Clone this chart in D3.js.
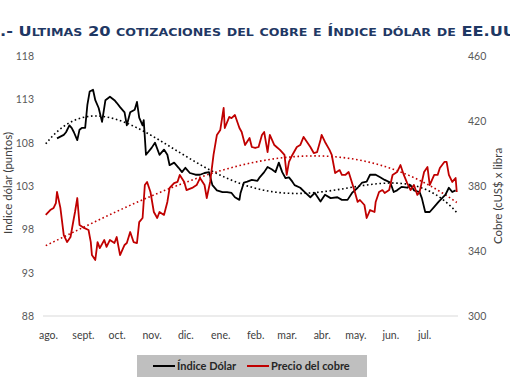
<!DOCTYPE html>
<html><head><meta charset="utf-8">
<script src="https://cdn.jsdelivr.net/npm/d3@7"></script>
<style>
body{margin:0;background:#fff;}
svg{display:block;}
</style></head>
<body>
<svg id="c" width="510" height="382"></svg>
<script>
// ---------- data ----------
const titulo = ".- Ultimas 20 cotizaciones del cobre e Índice dólar de EE.UU";
const tituloEjeIzq = "Indice dólar (puntos)";
const tituloEjeDer = "Cobre (cUS$ x libra";
const serieNombres = ["Índice Dólar", "Precio del cobre"];
const ticksIzq = [88, 93, 98, 103, 108, 113, 118];
const ticksDer = [300, 340, 380, 420, 460];
const mesesEtiquetas = ["ago.","sept.","oct.","nov.","dic.","ene.","feb.","mar.","abr.","may.","jun.","jul."];
const mesesFechas = ["2022-08-01","2022-09-01","2022-10-01","2022-11-01","2022-12-01","2023-01-01","2023-02-01","2023-03-01","2023-04-01","2023-05-01","2023-06-01","2023-07-01"];

const dolarFechas = ["2022-08-09","2022-08-12","2022-08-15","2022-08-17","2022-08-20","2022-08-22","2022-08-24","2022-08-27","2022-08-29","2022-08-31",
"2022-09-03","2022-09-05","2022-09-07","2022-09-10","2022-09-12","2022-09-15","2022-09-18","2022-09-21","2022-09-25","2022-09-29",
"2022-10-01","2022-10-04","2022-10-08","2022-10-10","2022-10-13","2022-10-17","2022-10-19","2022-10-21","2022-10-24","2022-10-25","2022-10-27",
"2022-11-01","2022-11-04","2022-11-08","2022-11-12","2022-11-15","2022-11-17","2022-11-21","2022-11-25","2022-11-28",
"2022-12-01","2022-12-05","2022-12-10","2022-12-14","2022-12-18","2022-12-22","2022-12-25","2022-12-29",
"2023-01-03","2023-01-07","2023-01-11","2023-01-14","2023-01-18","2023-01-19","2023-01-22","2023-01-25","2023-01-29",
"2023-02-03","2023-02-05","2023-02-09","2023-02-12","2023-02-16","2023-02-19","2023-02-22","2023-02-25","2023-02-28",
"2023-03-03","2023-03-06","2023-03-08","2023-03-13","2023-03-17","2023-03-22","2023-03-26","2023-03-31",
"2023-04-04","2023-04-09","2023-04-15","2023-04-19","2023-04-24","2023-04-28",
"2023-05-03","2023-05-07","2023-05-11","2023-05-14","2023-05-19","2023-05-23","2023-05-27",
"2023-06-01","2023-06-04","2023-06-07","2023-06-11","2023-06-16","2023-06-19","2023-06-22","2023-06-27","2023-06-29",
"2023-07-02","2023-07-06","2023-07-10","2023-07-14","2023-07-17","2023-07-20","2023-07-23","2023-07-26","2023-07-29"];
const dolarValores = [108.5,108.7,108.9,109.2,110.0,109.7,109.2,108.3,109.5,109.7,
109.7,112.4,113.9,114.1,112.9,112.0,110.4,112.9,113.3,112.9,
112.6,112.1,111.5,110.0,111.5,111.8,112.7,110.9,110.0,110.6,106.6,
107.4,108.0,106.6,107.2,106.6,105.4,105.7,105.1,104.6,
105.1,104.5,104.3,104.3,104.5,104.6,103.1,102.5,
102.3,102.3,102.2,101.7,101.4,102.2,103.4,103.5,103.7,
103.6,104.0,104.6,105.2,104.9,104.6,105.7,104.6,103.9,
104.0,103.5,103.1,102.8,102.3,101.7,102.2,101.2,
102.0,101.6,101.7,101.4,101.4,102.2,
102.8,103.4,103.5,104.3,104.3,104.0,103.7,
103.4,102.3,102.5,102.9,102.8,103.1,102.5,102.3,101.6,
100.0,100.0,100.6,101.2,101.6,102.0,102.8,102.3,102.5];

const cobreFechas = ["2022-07-30","2022-08-03","2022-08-06","2022-08-08","2022-08-09","2022-08-12","2022-08-15","2022-08-18","2022-08-21","2022-08-24","2022-08-25","2022-08-27","2022-08-29",
"2022-09-02","2022-09-06","2022-09-08","2022-09-09","2022-09-12","2022-09-14","2022-09-16","2022-09-20","2022-09-22","2022-09-25","2022-09-29",
"2022-10-01","2022-10-04","2022-10-08","2022-10-10","2022-10-13","2022-10-16","2022-10-19","2022-10-21","2022-10-24","2022-10-26","2022-10-28","2022-10-31",
"2022-11-03","2022-11-06","2022-11-08","2022-11-12","2022-11-15","2022-11-17","2022-11-21","2022-11-24","2022-11-26","2022-11-30",
"2022-12-02","2022-12-07","2022-12-11","2022-12-14","2022-12-18","2022-12-20","2022-12-23","2022-12-26","2022-12-29",
"2023-01-01","2023-01-04","2023-01-05","2023-01-09","2023-01-11","2023-01-14","2023-01-18","2023-01-20","2023-01-23","2023-01-27","2023-01-29",
"2023-02-01","2023-02-04","2023-02-07","2023-02-09","2023-02-12","2023-02-14","2023-02-18","2023-02-20","2023-02-23","2023-02-27",
"2023-03-01","2023-03-03","2023-03-06","2023-03-10","2023-03-13","2023-03-16","2023-03-19","2023-03-22","2023-03-25","2023-03-28","2023-03-31",
"2023-04-01","2023-04-04","2023-04-08","2023-04-10","2023-04-13","2023-04-17","2023-04-19","2023-04-22","2023-04-25","2023-04-30",
"2023-05-03","2023-05-05","2023-05-09","2023-05-11","2023-05-14","2023-05-18","2023-05-19","2023-05-22","2023-05-25","2023-05-27","2023-05-31",
"2023-06-03","2023-06-07","2023-06-10","2023-06-13","2023-06-16","2023-06-19","2023-06-22","2023-06-25","2023-06-27",
"2023-07-01","2023-07-04","2023-07-06","2023-07-10","2023-07-13","2023-07-15","2023-07-19","2023-07-21","2023-07-23","2023-07-26","2023-07-29","2023-07-30"];
const cobreValores = [362.2,365.2,366.5,369.5,376.3,366.5,349.8,345.5,348.6,360.3,364.0,372.6,356.0,
354.2,352.9,345.5,337.5,334.5,345.5,341.8,346.8,342.5,346.8,344.9,
348.6,337.5,343.7,344.9,351.7,345.5,344.9,357.8,360.3,380.6,382.5,376.3,
364.0,360.3,364.0,362.2,370.2,378.8,381.8,382.5,386.8,382.5,
377.5,378.8,380.6,384.9,380.6,372.6,382.5,399.1,411.4,
414.5,428.0,415.7,422.5,421.8,423.7,415.7,413.2,405.2,409.5,404.0,
403.4,404.0,411.4,413.2,400.9,411.4,405.2,404.0,402.2,399.1,
386.8,394.8,399.1,404.0,405.2,410.2,407.1,404.0,400.3,400.9,408.3,
411.4,407.1,402.2,399.1,388.0,389.8,386.8,386.8,388.6,377.5,
370.2,371.4,368.3,360.3,365.2,364.0,370.2,376.3,377.5,375.7,377.5,
386.8,388.6,392.9,386.8,381.8,377.5,380.6,374.5,376.3,
388.6,391.7,380.6,386.8,386.8,391.1,394.8,394.8,386.8,382.5,384.9,376.3];

const ordenTendenciaDolar = 4;
const ordenTendenciaCobre = 3;

// ---------- helpers ----------
const parse = d3.timeParse("%Y-%m-%d");
function polyFit(xs, ys, order){
  const n = order + 1;
  const A = Array.from({length:n}, () => new Array(n + 1).fill(0));
  for (let k = 0; k < xs.length; k++) {
    const p = [];
    for (let i = 0; i < n; i++) p.push(Math.pow(xs[k], i));
    for (let i = 0; i < n; i++) {
      for (let j = 0; j < n; j++) A[i][j] += p[i] * p[j];
      A[i][n] += p[i] * ys[k];
    }
  }
  for (let i = 0; i < n; i++) {
    let m = i;
    for (let r = i + 1; r < n; r++) if (Math.abs(A[r][i]) > Math.abs(A[m][i])) m = r;
    [A[i], A[m]] = [A[m], A[i]];
    for (let r = 0; r < n; r++) if (r !== i) {
      const f = A[r][i] / A[i][i];
      for (let c = i; c <= n; c++) A[r][c] -= f * A[i][c];
    }
  }
  return A.map((row, i) => row[n] / row[i]);
}

// ---------- chart ----------
const svg = d3.select("#c");
const FONT = "Lato, 'Liberation Sans', sans-serif";

const x = d3.scaleTime().domain([parse("2022-08-01"), parse("2023-08-01")]).range([48, 459]);
const yL = d3.scaleLinear().domain([88, 118]).range([316, 56]);
const yR = d3.scaleLinear().domain([300, 460]).range([316, 56]);

// title (manual small caps)
const tt = svg.append("text")
  .attr("x", 0).attr("y", 36)
  .attr("textLength", 516).attr("lengthAdjust", "spacingAndGlyphs")
  .style("font-family", "'DejaVu Sans', Verdana, sans-serif")
  .style("font-weight", "bold")
  .style("fill", "#1F3864");
const runs = [];
for (const ch of titulo) {
  const big = !(ch >= "a" && ch <= "z" || "áéíóúñ".includes(ch));
  const last = runs[runs.length - 1];
  if (last && last.big === big) last.s += ch; else runs.push({ big, s: ch });
}
runs.forEach(r => tt.append("tspan").style("font-size", r.big ? "13.5px" : "10.5px").text(r.s.toUpperCase()));

// baseline gridline
svg.append("line")
  .attr("x1", 43).attr("x2", 458)
  .attr("y1", yL(88)).attr("y2", yL(88))
  .attr("stroke", "#d9d9d9").attr("stroke-width", 1);

// left axis
const gL = svg.append("g").attr("transform", "translate(34,0)")
  .call(d3.axisLeft(yL).tickValues(ticksIzq).tickSize(0).tickPadding(0).tickFormat(d3.format("d")));
gL.select(".domain").remove();
gL.selectAll("text").style("font-family", FONT).style("font-size", "10.5px").style("fill", "#595959");

// right axis
const gR = svg.append("g").attr("transform", "translate(468,0)")
  .call(d3.axisRight(yR).tickValues(ticksDer).tickSize(0).tickPadding(0).tickFormat(d3.format("d")));
gR.select(".domain").remove();
gR.selectAll("text").style("font-family", FONT).style("font-size", "10.5px").style("fill", "#595959");

// bottom axis
const etiquetaMes = new Map(mesesFechas.map((f, i) => [f, mesesEtiquetas[i]]));
const fmt = d3.timeFormat("%Y-%m-%d");
const gB = svg.append("g").attr("transform", "translate(0,316)")
  .call(d3.axisBottom(x).tickValues(mesesFechas.map(parse)).tickSize(0).tickPadding(16)
    .tickFormat(d => etiquetaMes.get(fmt(d))));
gB.select(".domain").remove();
gB.selectAll("text").style("font-family", FONT).style("font-size", "10.5px").style("fill", "#404040");

// axis titles
svg.append("text")
  .attr("transform", "translate(12,183) rotate(-90)")
  .attr("text-anchor", "middle")
  .style("font-family", FONT).style("font-size", "11.5px").style("fill", "#404040")
  .text(tituloEjeIzq);
svg.append("text")
  .attr("transform", "translate(502,196) rotate(-90)")
  .attr("text-anchor", "middle")
  .style("font-family", FONT).style("font-size", "11.5px").style("fill", "#404040")
  .text(tituloEjeDer);

// data
const dolar = dolarFechas.map((f, i) => ({ d: parse(f), v: dolarValores[i] }));
const cobre = cobreFechas.map((f, i) => ({ d: parse(f), v: cobreValores[i] }));

// trendlines
const t0 = parse("2022-07-30"), t1 = parse("2023-07-30");
const DAY = 864e5;
function trend(data, order) {
  const xs = data.map(p => (p.d - t0) / DAY / 365);
  const coef = polyFit(xs, data.map(p => p.v), order);
  return d3.range(0, 1.0001, 1 / 200).map(u => {
    const d = new Date(+t0 + u * (t1 - t0));
    const xx = (d - t0) / DAY / 365;
    let v = 0; coef.forEach((c, i) => v += c * Math.pow(xx, i));
    return { d, v };
  });
}
const lineL = d3.line().x(p => x(p.d)).y(p => yL(p.v));
const lineR = d3.line().x(p => x(p.d)).y(p => yR(p.v));

svg.append("path").datum(trend(dolar, ordenTendenciaDolar)).attr("d", lineL)
  .attr("fill", "none").attr("stroke", "#000").attr("stroke-width", 1.6)
  .attr("stroke-dasharray", "1.6,2.6");
svg.append("path").datum(trend(cobre, ordenTendenciaCobre)).attr("d", lineR)
  .attr("fill", "none").attr("stroke", "#C00000").attr("stroke-width", 1.6)
  .attr("stroke-dasharray", "1.6,2.6");

svg.append("path").datum(dolar).attr("d", lineL)
  .attr("fill", "none").attr("stroke", "#000").attr("stroke-width", 1.8).attr("stroke-linejoin", "round");
svg.append("path").datum(cobre).attr("d", lineR)
  .attr("fill", "none").attr("stroke", "#C00000").attr("stroke-width", 1.8).attr("stroke-linejoin", "round");

// legend
const lg = svg.append("g");
lg.append("rect").attr("x", 137).attr("y", 355).attr("width", 230).attr("height", 22).attr("fill", "#bfbfbf");
const colores = ["#000", "#C00000"];
const lx = [153, 247];
serieNombres.forEach((n, i) => {
  lg.append("line").attr("x1", lx[i]).attr("x2", lx[i] + 22).attr("y1", 366).attr("y2", 366)
    .attr("stroke", colores[i]).attr("stroke-width", 2);
  lg.append("text").attr("x", lx[i] + 24).attr("y", 370)
    .style("font-family", FONT).style("font-size", "11px").style("font-weight", "bold").style("fill", "#262626")
    .text(n);
});
</script>
</body></html>
